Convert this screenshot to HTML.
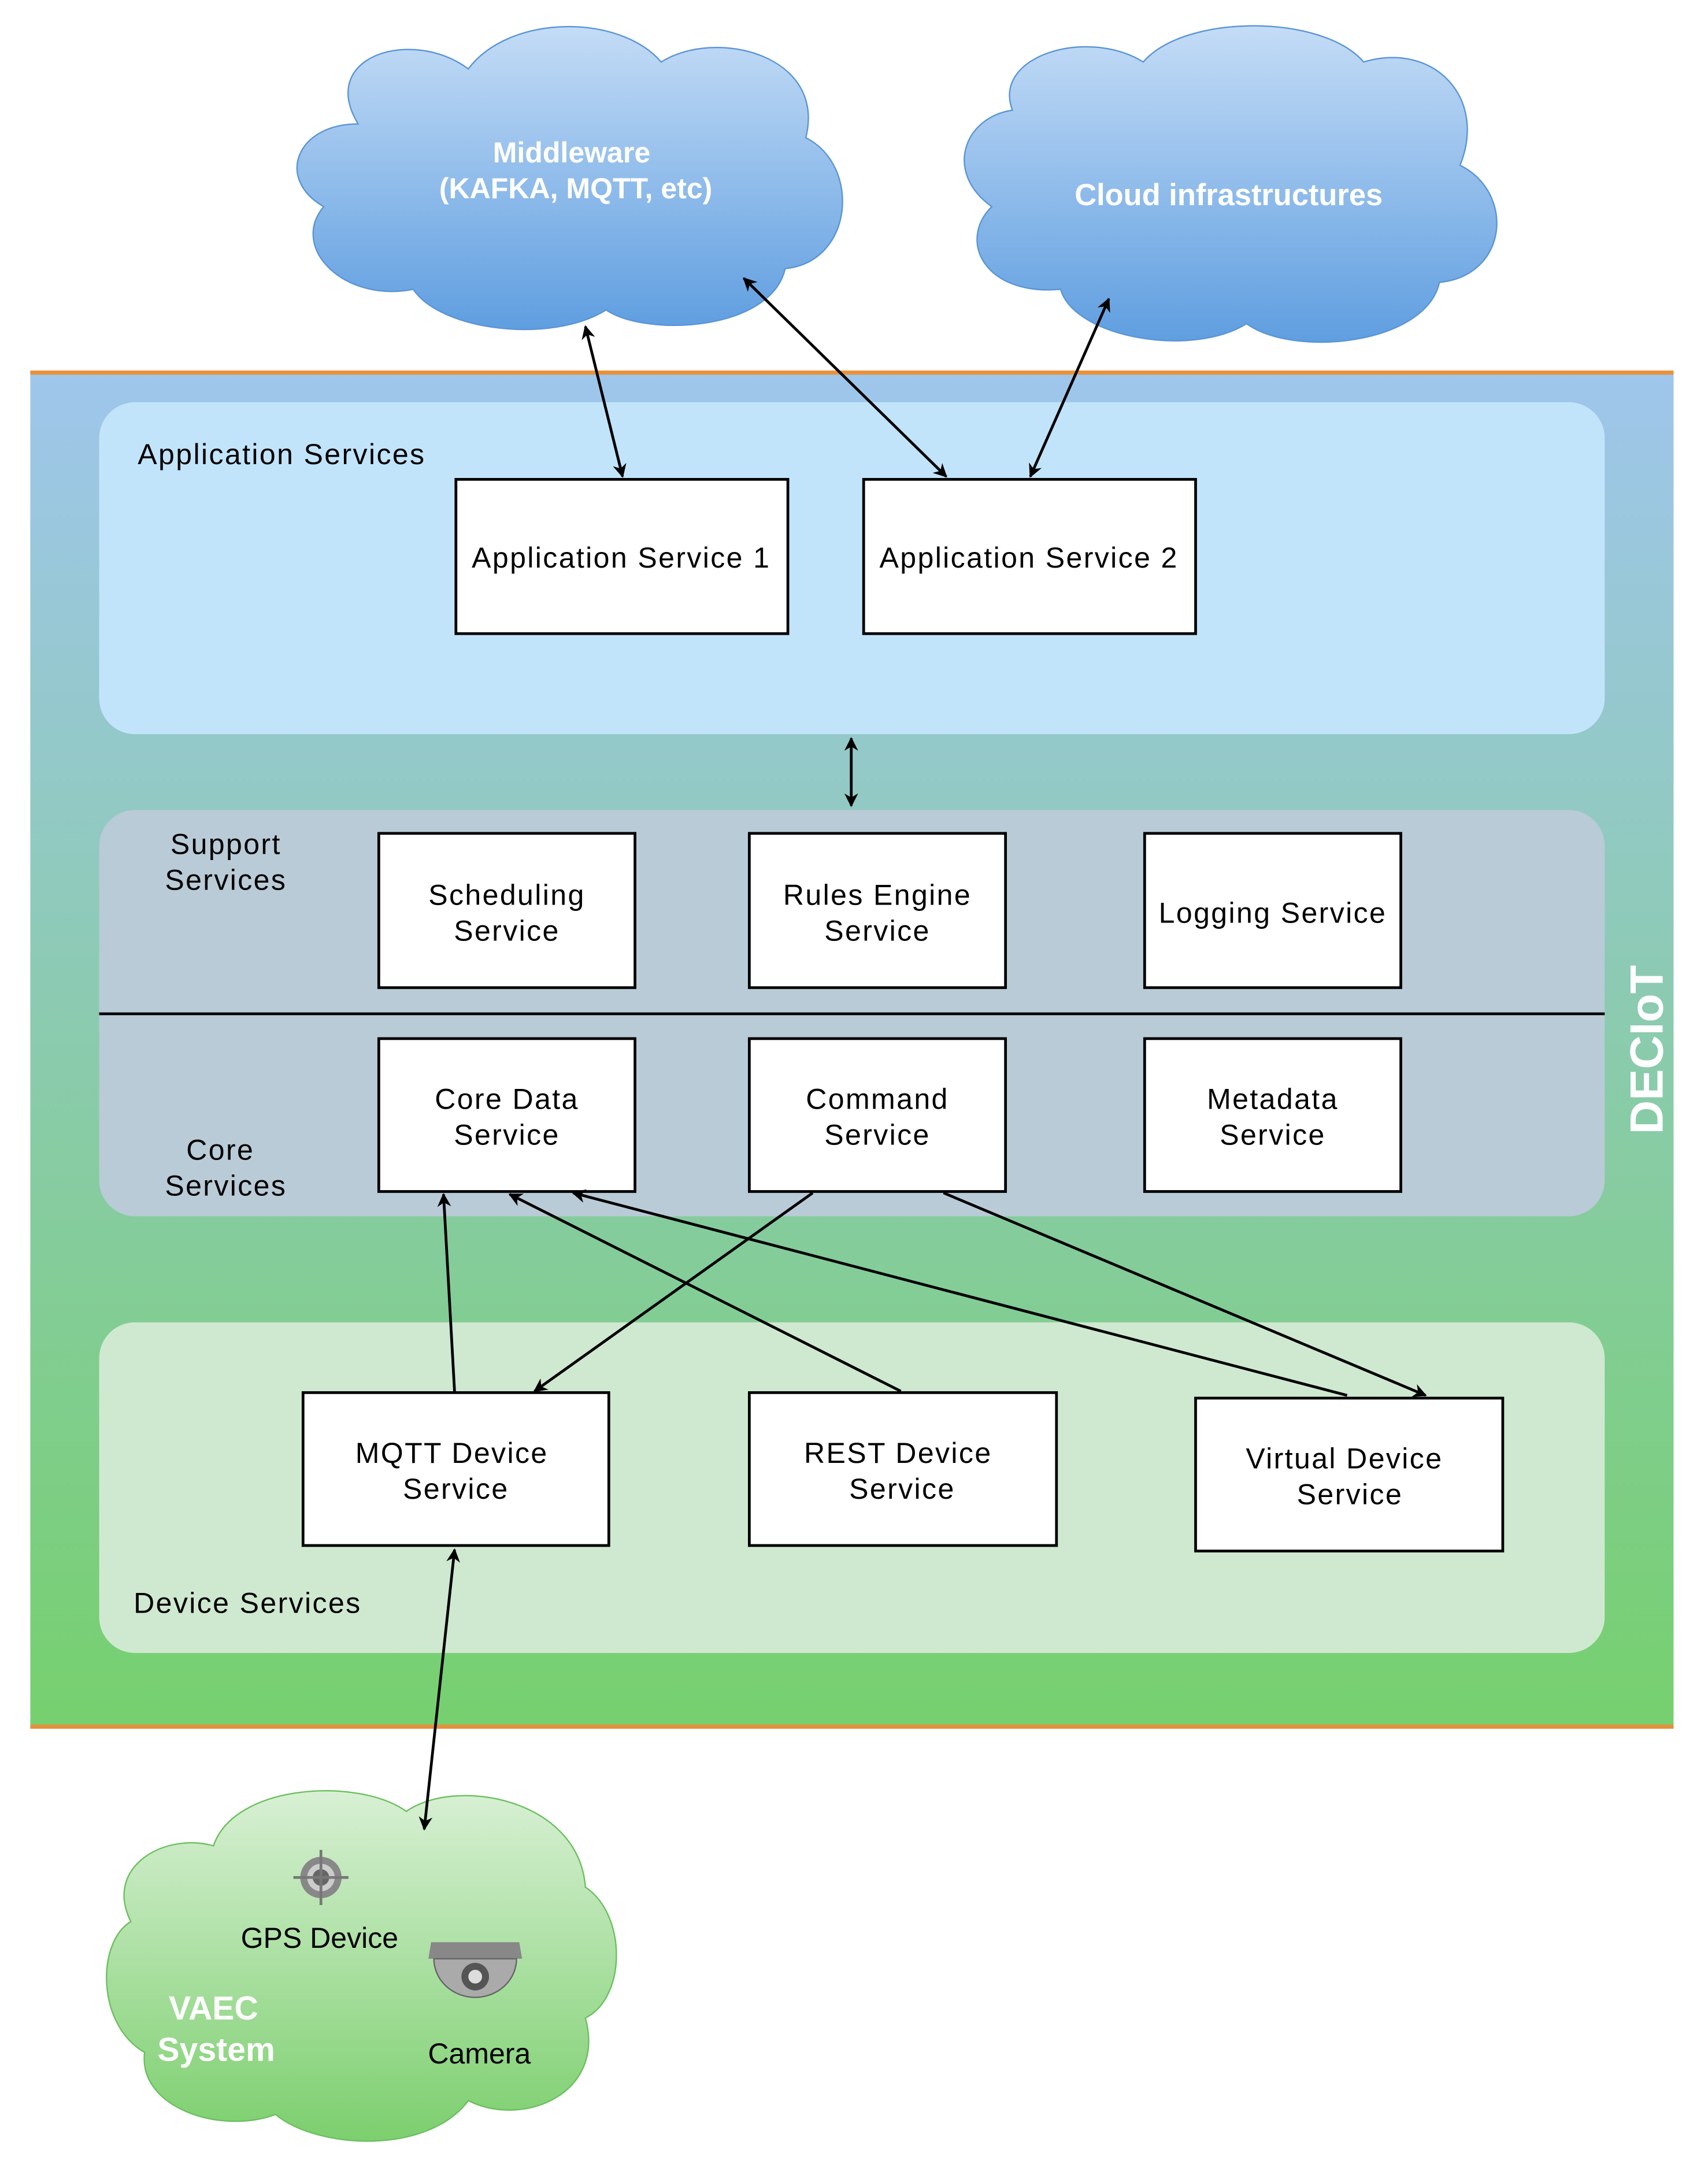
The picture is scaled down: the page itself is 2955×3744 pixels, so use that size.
<!DOCTYPE html>
<html><head><meta charset="utf-8"><style>
html,body{margin:0;padding:0;background:#fff;}
svg{display:block;}
text{font-family:"Liberation Sans",Arial,sans-serif;}
.ls{letter-spacing:1px;}
</style></head><body>
<svg width="2955" height="3744" viewBox="0 0 1240 1571" preserveAspectRatio="none" xmlns="http://www.w3.org/2000/svg">
<defs>
<linearGradient id="band" x1="0" y1="0" x2="0" y2="1">
<stop offset="0" stop-color="#9fc6ec"/><stop offset="1" stop-color="#76d06e"/>
</linearGradient>
<linearGradient id="cloudB" x1="0" y1="0" x2="0" y2="1">
<stop offset="0" stop-color="#c4dcf6"/><stop offset="1" stop-color="#5f9ee0"/>
</linearGradient>
<linearGradient id="cloudG" x1="0" y1="0" x2="0" y2="1">
<stop offset="0" stop-color="#d8f0d4"/><stop offset="1" stop-color="#7ccf6e"/>
</linearGradient>
<marker id="ah" markerWidth="10" markerHeight="10" refX="9" refY="5" orient="auto-start-reverse" markerUnits="userSpaceOnUse">
<path d="M0,0 L10,5 L0,10 L3,5 z" fill="#000"/>
</marker>
</defs>
<rect width="1240" height="1571" fill="#fff"/>
<rect x="22" y="270" width="1193" height="985" fill="url(#band)"/>
<rect x="22" y="269" width="1193" height="3" fill="#e8913a"/>
<rect x="22" y="1252" width="1193" height="3" fill="#e8913a"/>
<text x="1207" y="762" font-size="34" font-weight="bold" fill="#fff" text-anchor="middle" transform="rotate(-90 1207 762)">DECIoT</text>

<rect x="72" y="292" width="1093" height="241" rx="26" fill="#c2e4fb"/>
<text class="ls" x="100" y="337" font-size="21" fill="#000">Application Services</text>
<rect x="72" y="588" width="1093" height="295" rx="26" fill="#b9cbd6"/>
<line x1="72" y1="736" x2="1165" y2="736" stroke="#000" stroke-width="2"/>
<g class="ls" font-size="21" text-anchor="middle">
<text x="164" y="620">Support</text>
<text x="164" y="646">Services</text>
<text x="160" y="842">Core</text>
<text x="164" y="868">Services</text>
</g>
<rect x="72" y="960" width="1093" height="240" rx="26" fill="#cfe9d1"/>
<text class="ls" x="97" y="1171" font-size="21">Device Services</text>

<g fill="#fff" stroke="#000" stroke-width="2">
<rect x="331" y="348" width="241" height="112"/>
<rect x="627" y="348" width="241" height="112"/>
<rect x="275" y="605" width="186" height="112"/>
<rect x="544" y="605" width="186" height="112"/>
<rect x="831" y="605" width="186" height="112"/>
<rect x="275" y="754" width="186" height="111"/>
<rect x="544" y="754" width="186" height="111"/>
<rect x="831" y="754" width="186" height="111"/>
<rect x="220" y="1011" width="222" height="111"/>
<rect x="544" y="1011" width="223" height="111"/>
<rect x="868" y="1015" width="223" height="111"/>
</g>
<g class="ls" font-size="21" text-anchor="middle">
<text x="451" y="412">Application Service 1</text>
<text x="747" y="412">Application Service 2</text>
<text x="368" y="657">Scheduling</text><text x="368" y="683">Service</text>
<text x="637" y="657">Rules Engine</text><text x="637" y="683">Service</text>
<text x="924" y="670">Logging Service</text>
<text x="368" y="805">Core Data</text><text x="368" y="831">Service</text>
<text x="637" y="805">Command</text><text x="637" y="831">Service</text>
<text x="924" y="805">Metadata</text><text x="924" y="831">Service</text>
<text x="328" y="1062">MQTT Device</text><text x="331" y="1088">Service</text>
<text x="652" y="1062">REST Device</text><text x="655" y="1088">Service</text>
<text x="976" y="1066">Virtual Device</text><text x="980" y="1092">Service</text>
</g>

<g fill="url(#cloudB)" stroke="#5a95d6" stroke-width="1">
<path d="M260,90 C230,40 300,20 340,50 C370,10 450,10 480,45 C520,20 600,40 585,100 C625,120 620,190 570,195 C560,240 470,245 440,225 C400,250 320,240 300,210 C250,220 210,180 235,150 C200,130 215,90 260,90 Z"/>
<path d="M735,80 C720,40 790,20 830,45 C860,10 960,10 990,45 C1040,30 1080,70 1060,120 C1100,140 1095,200 1045,205 C1035,250 940,260 905,235 C865,260 780,245 770,210 C715,215 695,175 720,150 C685,125 700,85 735,80 Z"/>
</g>
<text x="415" y="118" font-size="21" font-weight="bold" fill="#fff" text-anchor="middle">Middleware</text>
<text x="418" y="144" font-size="21" font-weight="bold" fill="#fff" text-anchor="middle">(KAFKA, MQTT, etc)</text>
<text x="892" y="149" font-size="22" font-weight="bold" fill="#fff" text-anchor="middle" font-family="Liberation Serif,serif">Cloud infrastructures</text>

<path fill="url(#cloudG)" stroke="#6cbf60" stroke-width="1" d="M155,1340 C170,1295 260,1290 295,1315 C330,1290 420,1305 425,1370 C455,1390 455,1450 425,1465 C440,1520 380,1545 340,1525 C310,1565 230,1560 200,1535 C160,1550 100,1530 105,1490 C70,1470 70,1410 95,1395 C75,1355 120,1330 155,1340 Z"/>
<g transform="translate(233,1363)">
<circle r="15" fill="#888"/><circle r="10" fill="#ccc"/><circle r="6" fill="#666"/>
<line x1="0" y1="-20" x2="0" y2="20" stroke="#777" stroke-width="2"/><line x1="-20" y1="0" x2="20" y2="0" stroke="#777" stroke-width="2"/>
</g>
<text x="232" y="1414" font-size="21" text-anchor="middle">GPS Device</text>
<g transform="translate(345,1430)">
<path d="M-32,-20 L32,-20 L34,-8 L-34,-8 Z" fill="#888"/>
<path d="M-30,-8 A30,28 0 0 0 30,-8 Z" fill="#aaa" stroke="#666"/>
<circle cx="0" cy="5" r="10" fill="#555"/><circle cx="0" cy="5" r="5" fill="#ddd"/>
</g>
<text x="348" y="1498" font-size="21" text-anchor="middle">Camera</text>
<text x="155" y="1466" font-size="24" font-weight="bold" fill="#fff" text-anchor="middle">VAEC</text>
<text x="157" y="1496" font-size="24" font-weight="bold" fill="#fff" text-anchor="middle">System</text>

<g stroke="#000" stroke-width="2" fill="none">
<line x1="425" y1="237" x2="452" y2="346" marker-start="url(#ah)" marker-end="url(#ah)"/>
<line x1="540" y1="202" x2="687" y2="346" marker-start="url(#ah)" marker-end="url(#ah)"/>
<line x1="805" y1="217" x2="748" y2="346" marker-start="url(#ah)" marker-end="url(#ah)"/>
<line x1="618" y1="536" x2="618" y2="585" marker-start="url(#ah)" marker-end="url(#ah)"/>
<line x1="330" y1="1010" x2="322" y2="867" marker-end="url(#ah)"/>
<line x1="654" y1="1010" x2="370" y2="867" marker-end="url(#ah)"/>
<line x1="978" y1="1013" x2="416" y2="866" marker-end="url(#ah)"/>
<line x1="590" y1="866" x2="388" y2="1010" marker-end="url(#ah)"/>
<line x1="685" y1="866" x2="1035" y2="1013" marker-end="url(#ah)"/>
<line x1="330" y1="1125" x2="308" y2="1328" marker-start="url(#ah)" marker-end="url(#ah)"/>
</g>
</svg>
</body></html>
